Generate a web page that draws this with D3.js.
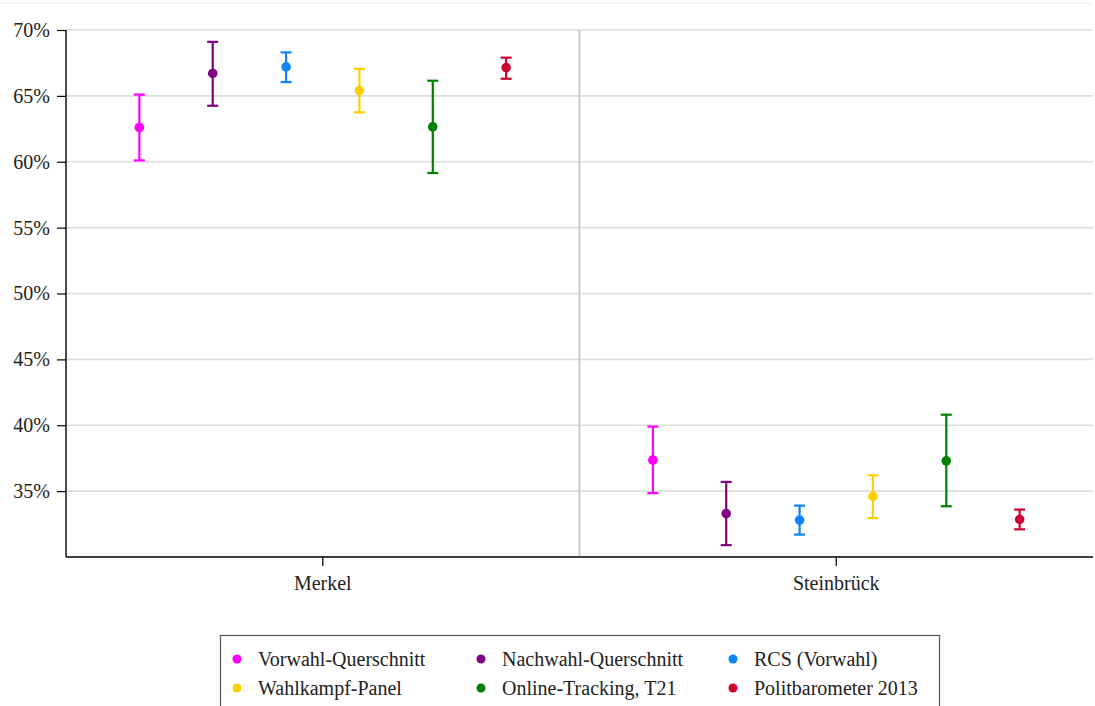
<!DOCTYPE html>
<html>
<head>
<meta charset="utf-8">
<script src="https://cdn.jsdelivr.net/npm/d3@7"></script>
<style>
html,body{margin:0;padding:0;background:#fff;}
svg{display:block;}
svg text{font-family:"Liberation Serif","Times New Roman",serif !important;}
</style>
</head>
<body>
<svg id="chart" width="1095" height="706"></svg>
<script>
const categories = ["Merkel", "Steinbrück"];
const seriesNames = ["Vorwahl-Querschnitt", "Nachwahl-Querschnitt", "RCS (Vorwahl)", "Wahlkampf-Panel", "Online-Tracking, T21", "Politbarometer 2013"];
const seriesColors = ["#ff00ff", "#800080", "#0a84ff", "#ffd000", "#008000", "#cc0033"];
// point estimates, [Merkel, Steinbrück]
const estimate = [
  [62.6, 37.35],
  [66.7, 33.3],
  [67.2, 32.8],
  [65.4, 34.6],
  [62.65, 37.3],
  [67.15, 32.85]
];
const upper = [
  [65.1, 39.9],
  [69.1, 35.7],
  [68.3, 33.9],
  [67.05, 36.2],
  [66.15, 40.8],
  [67.9, 33.6]
];
const lower = [
  [60.1, 34.85],
  [64.25, 30.9],
  [66.05, 31.7],
  [63.75, 32.95],
  [59.15, 33.85],
  [66.3, 32.1]
];
const yTicks = [35, 40, 45, 50, 55, 60, 65, 70];

(function () {
const svg = d3.select("#chart");
const mLeft = 66, mRight = 1093, mTop = 30, mBottom = 557;

const y = d3.scaleLinear().domain([30, 70]).range([mBottom, mTop]);
const x = d3.scaleBand().domain(categories).range([mLeft, mRight]);
const xs = d3.scalePoint().domain(seriesNames).range([0, x.bandwidth()]).padding(1.0);

// faint top frame line
svg.append("line").attr("x1", 0).attr("x2", mRight).attr("y1", 3.5).attr("y2", 3.5)
  .attr("stroke", "#eeeeee").attr("stroke-width", 1);

// gridlines
svg.append("g").selectAll("line").data(yTicks).join("line")
  .attr("x1", mLeft).attr("x2", mRight)
  .attr("y1", d => y(d)).attr("y2", d => y(d))
  .attr("stroke", "#dddddd").attr("stroke-width", 1.6);

// vertical divider between categories
svg.append("line")
  .attr("x1", x("Steinbrück")).attr("x2", x("Steinbrück"))
  .attr("y1", mTop).attr("y2", mBottom)
  .attr("stroke", "#cccccc").attr("stroke-width", 2);

// axes
const yAxis = d3.axisLeft(y).tickValues(yTicks).tickSize(9).tickPadding(7).tickFormat(d => d + "%");
const gy = svg.append("g").attr("transform", `translate(${mLeft},0)`).call(yAxis)
  .attr("font-family", null).attr("font-size", null);
gy.select(".domain").remove();
gy.selectAll(".tick line").attr("stroke", "#000").attr("stroke-width", 1.2);
gy.selectAll("text").style("font-size", "20px").attr("fill", "#222");
svg.append("line").attr("x1", mLeft).attr("x2", mLeft).attr("y1", mTop).attr("y2", mBottom)
  .attr("stroke", "#000").attr("stroke-width", 1.4);

const xAxis = d3.axisBottom(x).tickSize(9).tickPadding(10);
const gx = svg.append("g").attr("transform", `translate(0,${mBottom})`).call(xAxis)
  .attr("font-family", null).attr("font-size", null);
gx.select(".domain").remove();
gx.selectAll(".tick line").attr("stroke", "#000").attr("stroke-width", 1.2);
gx.selectAll("text").style("font-size", "20px").attr("fill", "#222");
svg.append("line").attr("x1", mLeft).attr("x2", mRight).attr("y1", mBottom).attr("y2", mBottom)
  .attr("stroke", "#000").attr("stroke-width", 1.4);

// error bars and points
const pts = [];
seriesNames.forEach((s, i) => {
  categories.forEach((c, j) => {
    pts.push({s, i, c, est: estimate[i][j], lo: lower[i][j], hi: upper[i][j]});
  });
});
const g = svg.append("g");
const cap = 5.5;
pts.forEach(p => {
  const cx = x(p.c) + xs(p.s);
  const col = seriesColors[p.i];
  g.append("line").attr("x1", cx).attr("x2", cx).attr("y1", y(p.lo)).attr("y2", y(p.hi))
    .attr("stroke", col).attr("stroke-width", 2.2);
  [p.lo, p.hi].forEach(v => {
    g.append("line").attr("x1", cx - cap).attr("x2", cx + cap).attr("y1", y(v)).attr("y2", y(v))
      .attr("stroke", col).attr("stroke-width", 2.2);
  });
  g.append("circle").attr("cx", cx).attr("cy", y(p.est)).attr("r", 4.8).attr("fill", col);
});

// legend
const lg = svg.append("g");
lg.append("rect").attr("x", 220.5).attr("y", 635.5).attr("width", 719).attr("height", 90)
  .attr("fill", "#fff").attr("stroke", "#555").attr("stroke-width", 1.2);
const colX = [237, 481, 733];
const rowY = [659, 688];
seriesNames.forEach((s, i) => {
  const cx = colX[i % 3], cy = rowY[Math.floor(i / 3)];
  lg.append("circle").attr("cx", cx).attr("cy", cy).attr("r", 4.5).attr("fill", seriesColors[i]);
  lg.append("text").attr("x", cx + 21).attr("y", cy).attr("dy", "0.35em")
    .style("font-size", "20px").attr("fill", "#222").text(s);
});
})();
</script>
</body>
</html>
